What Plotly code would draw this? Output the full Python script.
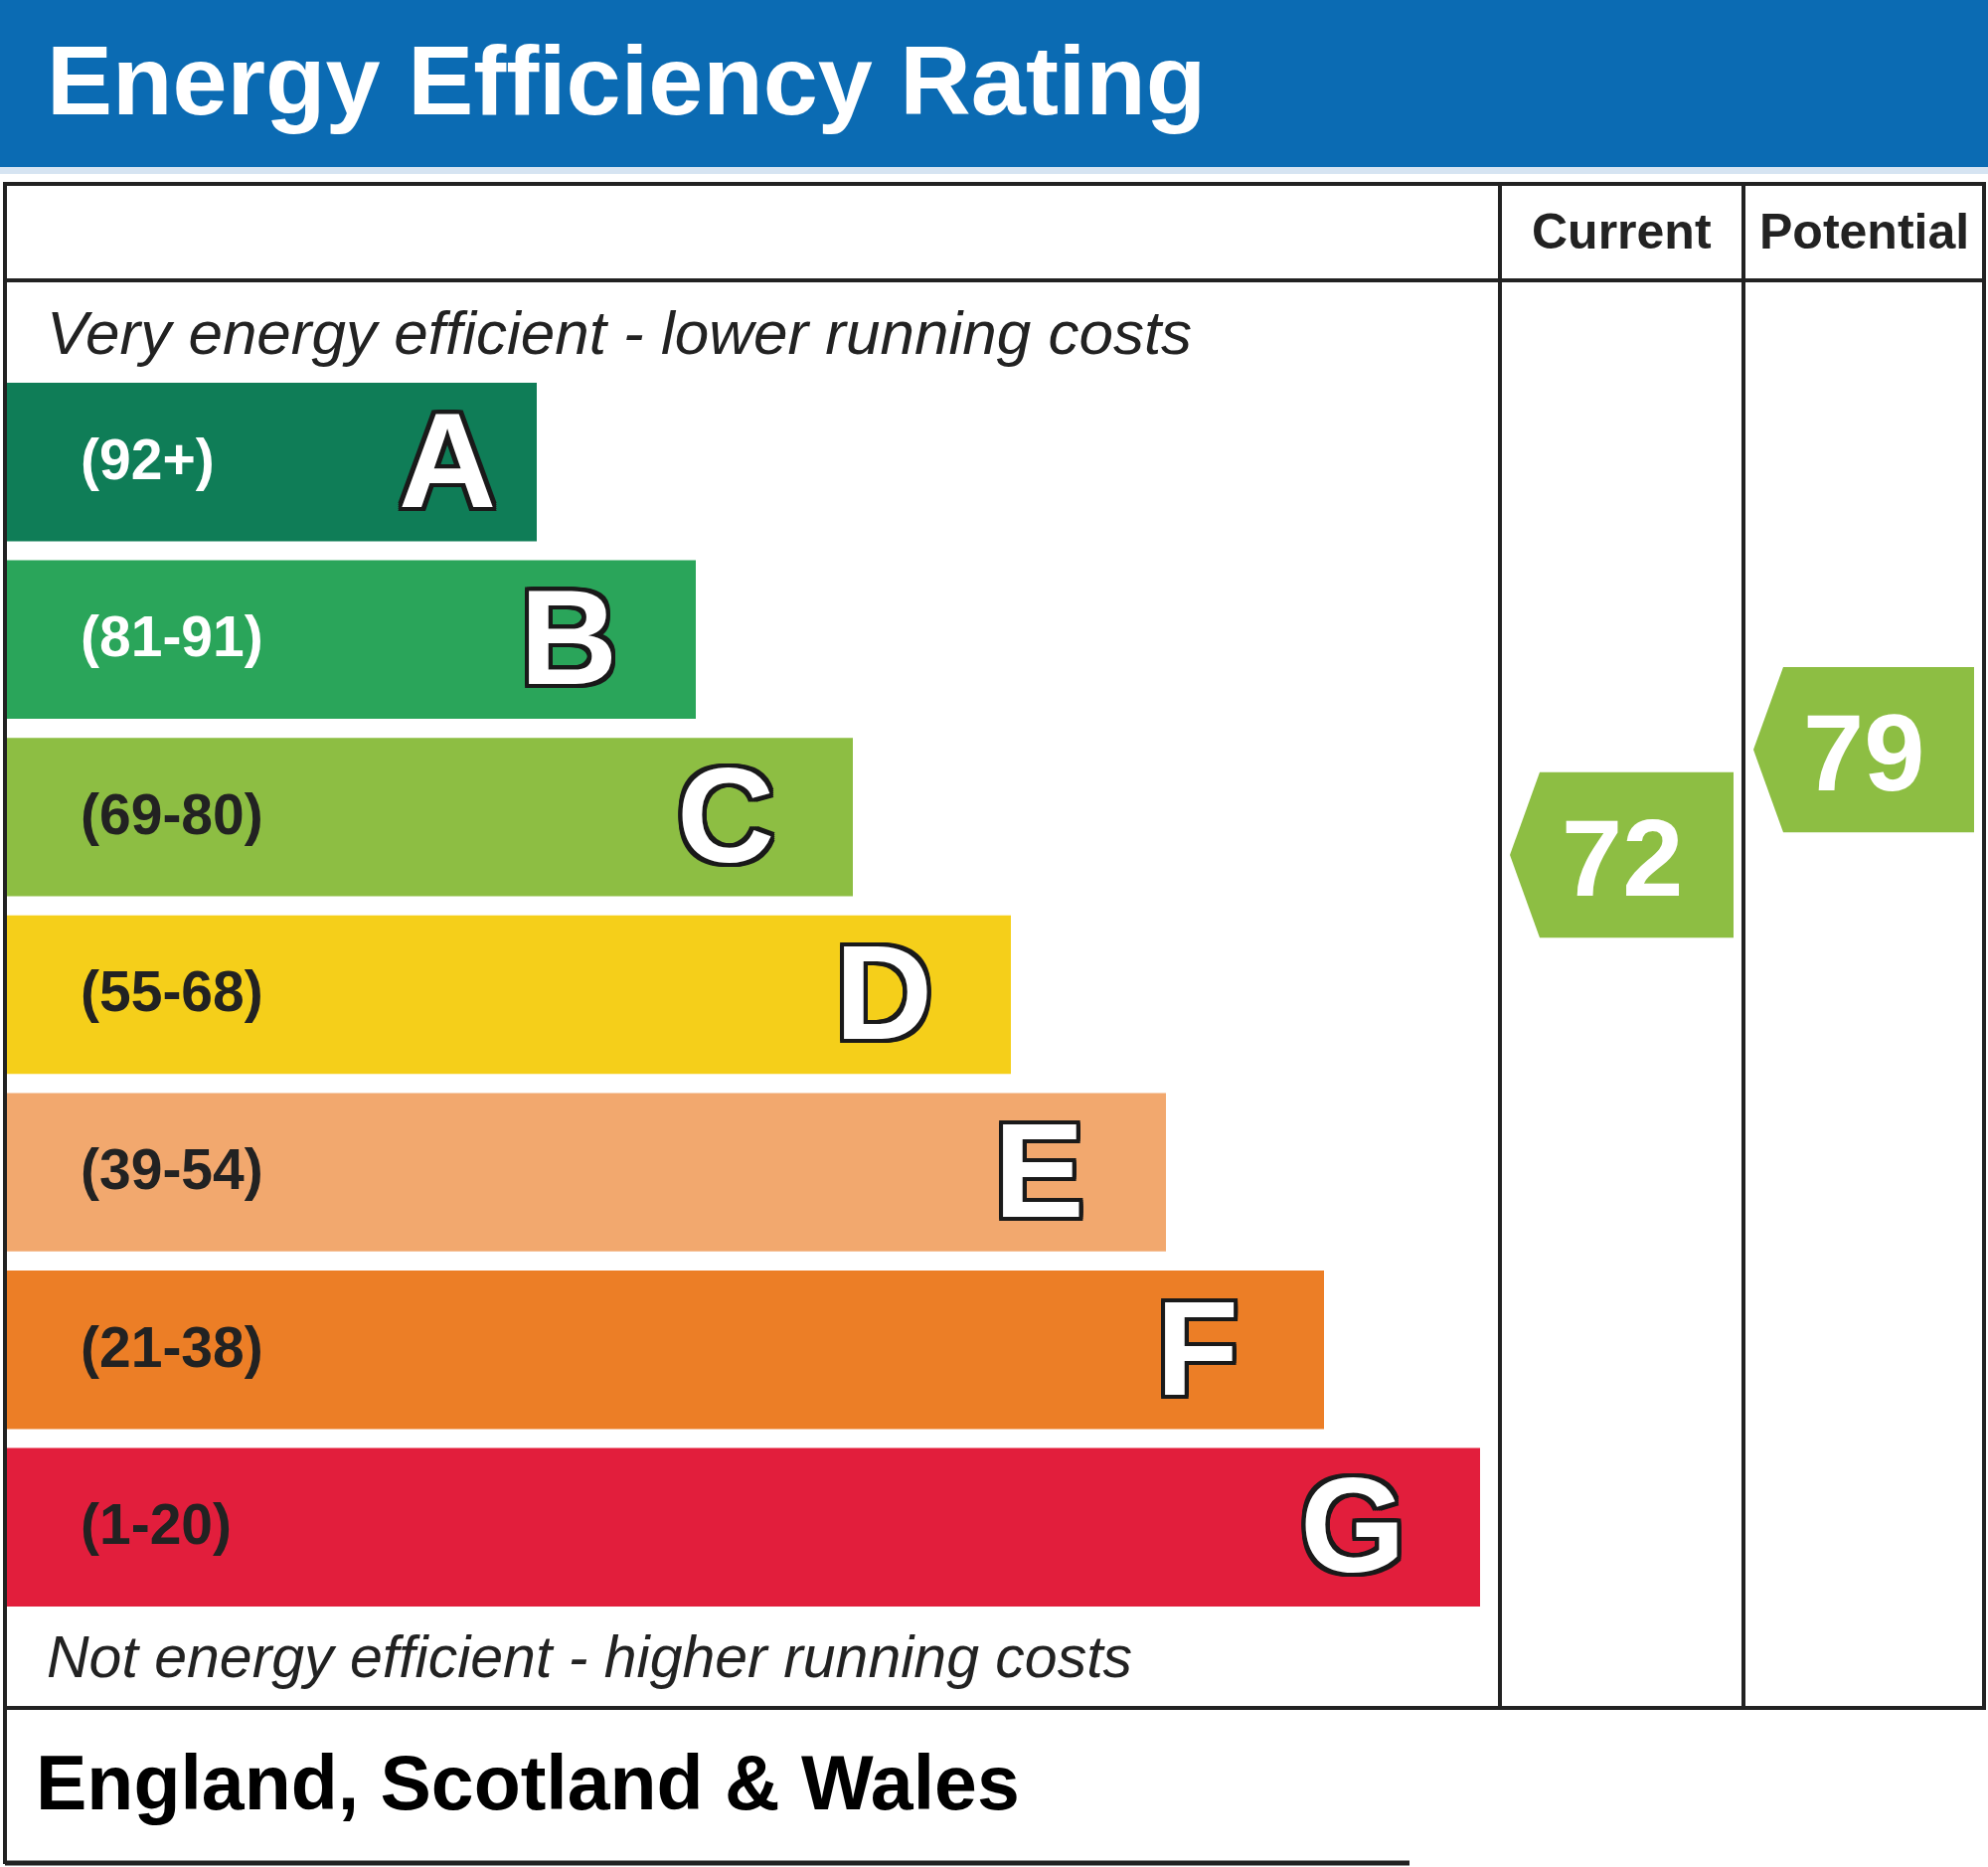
import plotly.graph_objects as go

W, H = 2000, 1878

# rating bands, top (best) to bottom (worst)
bands = ["A", "B", "C", "D", "E", "F", "G"]
band_ranges = ["(92+)", "(81-91)", "(69-80)", "(55-68)", "(39-54)", "(21-38)", "(1-20)"]
band_lower = [92, 81, 69, 55, 39, 21, 1]
bar_lengths = [535, 695, 853, 1012, 1168, 1327, 1484]
band_colors = ["#0f7d57", "#2aa55a", "#8dbe43", "#f5cf1a", "#f2a86e", "#ec7e26", "#e21e3c"]
range_text_colors = ["#ffffff", "#ffffff", "#222222", "#222222", "#222222", "#222222", "#222222"]

# current / potential scores
score_names = ["Current", "Potential"]
score_values = [72, 79]

LINE = "#222222"
FONT = "Liberation Sans, Arial, sans-serif"


def py(p):
    # pixel row from the top -> paper fraction
    return 1 - p / H


def band_color(v):
    for lo, c in zip(band_lower, band_colors):
        if v >= lo:
            return c
    return band_colors[-1]


fig = go.Figure()

# coloured bars
fig.add_trace(go.Bar(
    x=bar_lengths, y=bands, base=5, orientation="h",
    marker=dict(color=band_colors, line=dict(width=0)),
    hoverinfo="skip", showlegend=False,
))

annotations = []

# range labels on the bars
for b, r, c in zip(bands, band_ranges, range_text_colors):
    annotations.append(dict(
        text="<b>%s</b>" % r, x=79, y=b, xref="x", yref="y",
        xanchor="left", yanchor="middle", yshift=3, showarrow=False,
        font=dict(family=FONT, size=57, color=c),
    ))

# big outlined letters
outline = ", ".join("%dpx %dpx 0 #1a1a1a" % (dx, dy)
                    for dx in (-4, -2, 0, 2, 4) for dy in (-4, -2, 0, 2, 4) if dx or dy)
for b, L in zip(bands, bar_lengths):
    annotations.append(dict(
        text="<b>%s</b>" % b, x=5 + L - (90 if b == "A" else 128), y=b,
        xref="x", yref="y", xanchor="center", yanchor="middle", yshift=2,
        showarrow=False,
        font=dict(family=FONT, size=136, color="#ffffff", shadow=outline),
    ))

# score arrows in the Current / Potential columns
columns = [(1509, 1754), (1754, 1996)]
half = 5.5
tip = 30
for name, v, (cl, cr) in zip(score_names, score_values, columns):
    x0, x1 = cl + 10, cr - 10
    fig.add_trace(go.Scatter(
        x=[x0 + tip, x1, x1, x0 + tip, x0, x0 + tip],
        y=[v + half, v + half, v - half, v - half, v, v + half],
        xaxis="x", yaxis="y2", mode="lines", fill="toself",
        fillcolor=band_color(v), line=dict(width=0),
        hoverinfo="skip", showlegend=False,
    ))
    annotations.append(dict(
        text="<b>%d</b>" % v, x=(x0 + x1) / 2, y=v, xref="x", yref="y2",
        xanchor="center", yanchor="middle", yshift=-2, showarrow=False,
        font=dict(family=FONT, size=110, color="#ffffff"),
    ))

shapes = [
    # blue title band
    dict(type="rect", xref="paper", yref="paper", x0=0, x1=1, y0=py(168), y1=1,
         fillcolor="#0b6bb3", line=dict(width=0), layer="below"),
    dict(type="rect", xref="paper", yref="paper", x0=0, x1=1, y0=py(175), y1=py(168),
         fillcolor="#d6e4f2", line=dict(width=0), layer="below"),
    # table frame
    dict(type="rect", xref="x", yref="paper", x0=5, x1=1996, y0=py(1718), y1=py(185),
         line=dict(color=LINE, width=4)),
    dict(type="line", xref="x", yref="paper", x0=5, x1=1996, y0=py(282), y1=py(282),
         line=dict(color=LINE, width=4)),
    dict(type="line", xref="x", yref="paper", x0=1509, x1=1509, y0=py(185), y1=py(1718),
         line=dict(color=LINE, width=4)),
    dict(type="line", xref="x", yref="paper", x0=1754, x1=1754, y0=py(185), y1=py(1718),
         line=dict(color=LINE, width=4)),
    # footer box
    dict(type="line", xref="x", yref="paper", x0=5, x1=5, y0=py(1718), y1=py(1875),
         line=dict(color=LINE, width=4)),
    dict(type="line", xref="x", yref="paper", x0=5, x1=1418, y0=py(1874), y1=py(1874),
         line=dict(color=LINE, width=5)),
]

text_notes = [
    dict(text="<b>Energy Efficiency Rating</b>", x=45, y=py(80), xanchor="left",
         font=dict(family=FONT, size=99, color="#ffffff")),
    dict(text="<b>Current</b>", x=1631, y=py(233), xanchor="center",
         font=dict(family=FONT, size=50, color=LINE)),
    dict(text="<b>Potential</b>", x=1875, y=py(233), xanchor="center",
         font=dict(family=FONT, size=50, color=LINE)),
    dict(text="<i>Very energy efficient - lower running costs</i>", x=45, y=py(334),
         xanchor="left", font=dict(family=FONT, size=62, color=LINE)),
    dict(text="<i>Not energy efficient - higher running costs</i>", x=45, y=py(1667),
         xanchor="left", font=dict(family=FONT, size=59, color=LINE)),
    dict(text="<b>England, Scotland & Wales</b>", x=34, y=py(1793), xanchor="left",
         font=dict(family=FONT, size=77, color="#000000")),
]
for a in text_notes:
    a.update(xref="x", yref="paper", yanchor="middle", showarrow=False)
annotations += text_notes

fig.update_layout(
    width=W, height=H,
    margin=dict(l=0, r=0, t=0, b=0),
    paper_bgcolor="#ffffff", plot_bgcolor="rgba(0,0,0,0)",
    bargap=0.1075,
    xaxis=dict(range=[0, W], domain=[0, 1], visible=False, fixedrange=True),
    yaxis=dict(domain=[py(1625.6), py(375.4)], autorange="reversed",
               categoryorder="array", categoryarray=bands, visible=False),
    yaxis2=dict(domain=[0, 1], range=[4.72, 128.84], visible=False, anchor="x"),
    shapes=shapes,
    annotations=annotations,
)

fig.write_html("out.html", config={"displayModeBar": False},
               post_script="document.body.style.margin = '0';")
